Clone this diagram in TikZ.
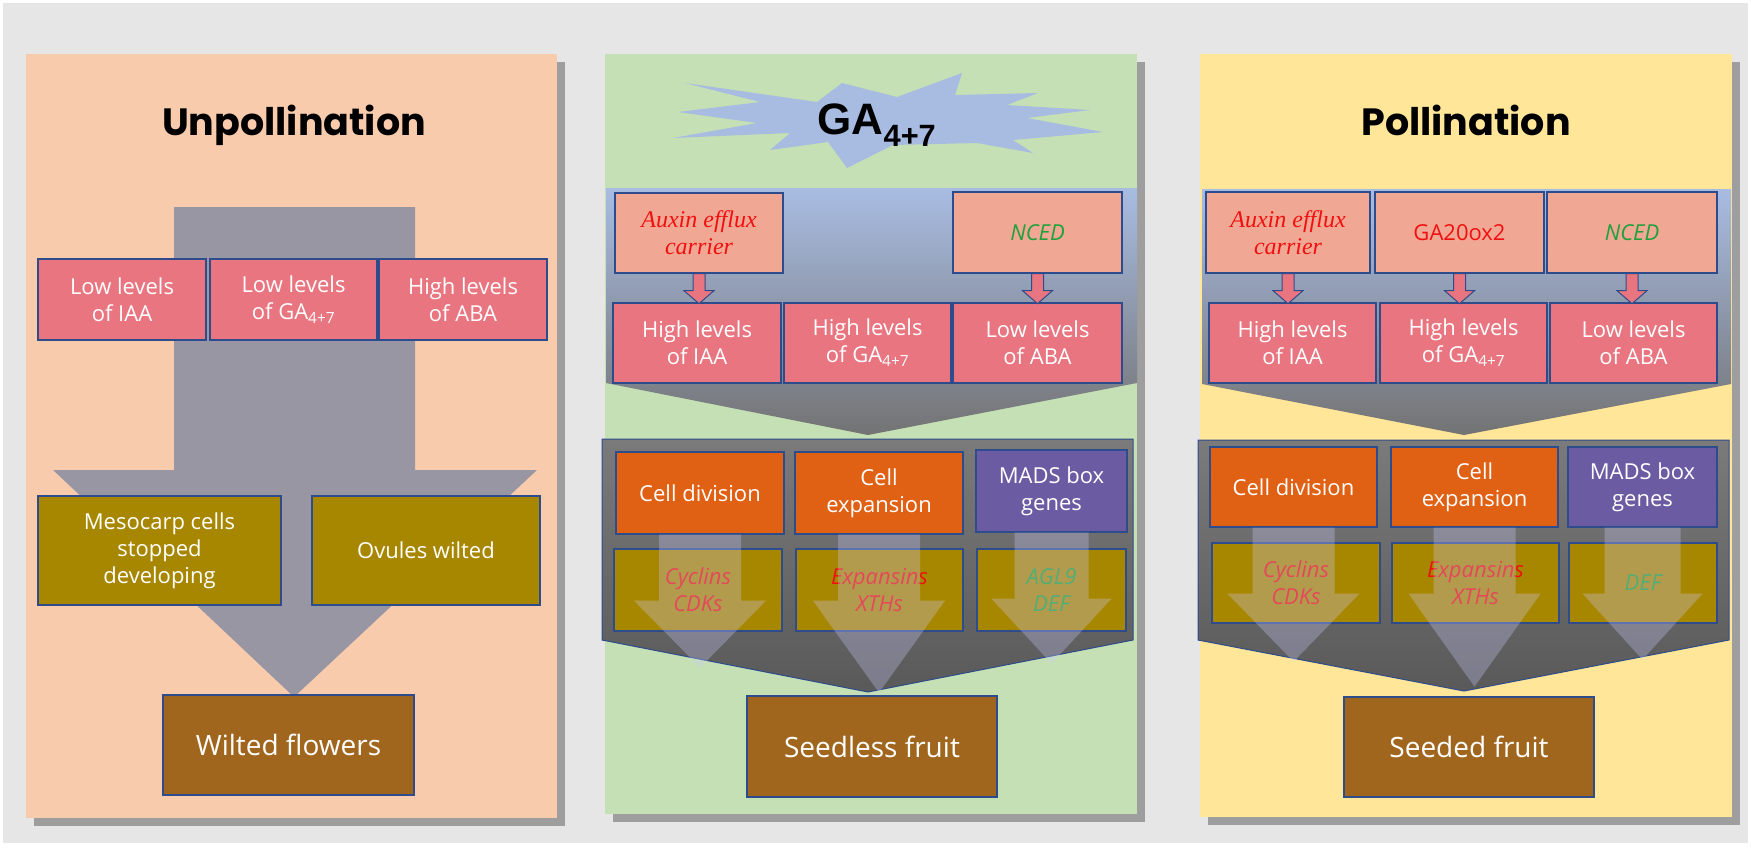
\documentclass[tikz,border=0pt]{standalone}
\usepackage{fontspec}
\setmainfont{Open Sans}
\newfontfamily\ttlfont{Poppins}
\newfontfamily\gafont{Liberation Sans}
\newfontfamily\serfont{Liberation Serif}
\usetikzlibrary{calc}
\definecolor{bgray}{HTML}{E6E6E6}
\definecolor{peach}{HTML}{F8CBAD}
\definecolor{pgreen}{HTML}{C5E0B4}
\definecolor{pyellow}{HTML}{FFE699}
\definecolor{pinkb}{HTML}{E8757F}
\definecolor{salmon}{HTML}{F0A894}
\definecolor{orng}{HTML}{E06014}
\definecolor{purp}{HTML}{6A5BA2}
\definecolor{olive}{HTML}{A88700}
\definecolor{brwn}{HTML}{A0661E}
\definecolor{bord}{HTML}{2E4C8C}
\definecolor{tred}{HTML}{F01010}
\definecolor{tgreen}{HTML}{1FA03C}
\definecolor{star}{HTML}{A8BCE2}
\definecolor{bigarr}{HTML}{9394A3}
\tikzset{
 box/.style={draw=bord, line width=1.3pt, inner sep=2pt, align=center, text=white,
   font=\fontsize{22}{27}\selectfont},
 pinkbox/.style={box, fill=pinkb},
 salbox/.style={box, fill=salmon},
 orbox/.style={box, fill=orng},
 pubox/.style={box, fill=purp},
 olbox/.style={box, fill=olive},
 brbox/.style={box, fill=brwn, font=\fontsize{28}{32}\selectfont},
 panel/.style={draw=none},
 shadow/.style={fill=black!45, opacity=0.8},
 title/.style={font=\ttlfont\bfseries\fontsize{38}{44}\selectfont, text=black},
 redit/.style={text=tred, font=\itshape\fontsize{22}{27}\selectfont},
 grnit/.style={text=tgreen, font=\itshape\fontsize{22}{27}\selectfont},
 serit/.style={text=tred, font=\serfont\itshape\fontsize{24}{27}\selectfont},
 barrow/.pic={\draw[fill=pinkb, draw=bord, line width=1pt] (-6,0) -- (6,0) -- (6,17) -- (15,17) -- (0,30) -- (-15,17) -- (-6,17) -- cycle;},
 larrow/.pic={\fill[white!80!blue, opacity=0.3] (-41,0) -- (41,0) -- (41,66) -- (66,66) -- (0,\arrlen) -- (-66,66) -- (-41,66) -- cycle;},
}
\newcommand\rbox[7]{\node[#6, minimum width={#4-#2}, minimum height={#5-#3}] (#1) at ({(#2+#4)/2},{(#3+#5)/2}) {#7};}
\newcommand\sub[1]{\textsubscript{#1}}
\begin{document}
\begin{tikzpicture}[x=1pt,y=-1pt]
\useasboundingbox (0,0) rectangle (1751,847);
\fill[white] (0,0) rectangle (1751,847);
\fill[bgray] (3,3) rectangle (1748,843);
% panels with shadows
\fill[shadow] (34,62) rectangle (565,826);
\fill[peach] (26,54) rectangle (557,818);
\fill[shadow] (613,62) rectangle (1145,822);
\fill[pgreen] (605,54) rectangle (1137,814);
\fill[shadow] (1208,62) rectangle (1740,825);
\fill[pyellow] (1200,54) rectangle (1732,817);

%%% Panel 1
\node[title] (t1) at (294,125) {Unpollination};
\fill[bigarr, opacity=0.95] (174,207) -- (415,207) -- (415,470) -- (537,470) -- (294,697) -- (53,470) -- (174,470) -- cycle;
\rbox{p1a}{38}{259}{206}{340}{pinkbox}{Low levels\\of IAA}
\rbox{p1b}{210}{259}{377}{340}{pinkbox}{Low levels\\of GA\sub{4+7}}
\rbox{p1c}{379}{259}{547}{340}{pinkbox}{High levels\\of ABA}
\rbox{p1d}{38}{496}{281}{605}{olbox}{Mesocarp cells\\stopped\\developing}
\rbox{p1e}{312}{496}{540}{605}{olbox}{Ovules wilted}
\rbox{p1f}{163}{695}{414}{795}{brbox}{Wilted flowers}

%%% Panel 2
\fill[star] (685,83) -- (817,102) -- (842,83) -- (897,97) -- (962,73) -- (955,95) -- (1038,93) -- (1007,105) -- (1090,110) -- (1027,118) -- (1103,132) -- (1013,140) -- (1033,153) -- (977,143) -- (893,145) -- (847,168) -- (828,142) -- (770,150) -- (790,133) -- (673,138) -- (757,123) -- (678,112) -- (760,102) -- cycle;
\node[font=\gafont\bfseries\fontsize{44}{48}\selectfont] (ga) at (877,125) {GA\sub{4+7}};
\shade[top color=star, bottom color=black!55] (606,188) -- (1137,188) -- (1137,383) -- (868,435) -- (606,383) -- cycle;
\rbox{q1}{615}{193}{783}{273}{salbox}{\serfont\itshape\color{tred}\fontsize{24}{27}\selectfont Auxin efflux\\\serfont\itshape\color{tred}\fontsize{24}{27}\selectfont carrier}
\rbox{q3}{953}{192}{1122}{273}{salbox, grnit}{NCED}
\rbox{q4}{613}{303}{781}{383}{pinkbox}{High levels\\of IAA}
\rbox{q5}{784}{303}{951}{383}{pinkbox}{High levels\\of GA\sub{4+7}}
\rbox{q6}{953}{303}{1122}{383}{pinkbox}{Low levels\\of ABA}
\pic at (q1.south) {barrow};
\pic at (q3.south) {barrow};
\shade[top color=black!52, bottom color=black!65, draw=bord, line width=1pt] (602,439) -- (1133,439) -- (1133,640) -- (868,692) -- (602,640) -- cycle;
\rbox{q7}{616}{452}{784}{534}{orbox}{Cell division}
\rbox{q8}{795}{452}{963}{534}{orbox}{Cell\\expansion}
\rbox{q9}{976}{450}{1127}{532}{pubox}{MADS box\\genes}
\rbox{q10}{614}{549}{782}{631}{olbox, redit}{Cyclins\\CDKs}
\rbox{q11}{796}{549}{963}{631}{olbox, redit}{Expansins\\XTHs}
\rbox{q12}{977}{549}{1126}{631}{olbox, grnit}{AGL9\\DEF}
\def\arrlen{133}
\pic at (q7.south) {larrow};
\def\arrlen{158}
\pic at (q8.south) {larrow};
\def\arrlen{131}
\begin{scope}[shift={(q9.south)}]
\fill[white!80!blue, opacity=0.3] (-37,0) -- (37,0) -- (37,66) -- (60,66) -- (0,131) -- (-60,66) -- (-37,66) -- cycle;
\end{scope}
\rbox{q13}{747}{696}{997}{797}{brbox}{Seedless fruit}

%%% Panel 3
\node[title] (t3) at (1466,120) {Pollination};
\shade[top color=star, bottom color=black!55] (1202,189) -- (1731,189) -- (1731,384) -- (1464,435) -- (1202,384) -- cycle;
\rbox{r1}{1206}{192}{1370}{273}{salbox}{\serfont\itshape\color{tred}\fontsize{24}{27}\selectfont Auxin efflux\\\serfont\itshape\color{tred}\fontsize{24}{27}\selectfont carrier}
\rbox{r2}{1375}{192}{1544}{273}{salbox, text=tred}{GA20ox2}
\rbox{r3}{1547}{192}{1717}{273}{salbox, grnit}{NCED}
\rbox{r4}{1209}{303}{1376}{383}{pinkbox}{High levels\\of IAA}
\rbox{r5}{1380}{303}{1547}{383}{pinkbox}{High levels\\of GA\sub{4+7}}
\rbox{r6}{1550}{303}{1717}{383}{pinkbox}{Low levels\\of ABA}
\pic at (r1.south) {barrow};
\pic at (r2.south) {barrow};
\pic at (r3.south) {barrow};
\shade[top color=black!52, bottom color=black!65, draw=bord, line width=1pt] (1198,440) -- (1729,440) -- (1729,640) -- (1464,691) -- (1198,640) -- cycle;
\rbox{r7}{1210}{447}{1377}{527}{orbox}{Cell division}
\rbox{r8}{1391}{447}{1558}{527}{orbox}{Cell\\expansion}
\rbox{r9}{1568}{447}{1717}{527}{pubox}{MADS box\\genes}
\rbox{r10}{1212}{543}{1380}{623}{olbox, redit}{Cyclins\\CDKs}
\rbox{r11}{1392}{543}{1559}{623}{olbox, redit}{Expansins\\XTHs}
\rbox{r12}{1569}{543}{1717}{623}{olbox, grnit}{DEF}
\def\arrlen{134}
\pic at (r7.south) {larrow};
\def\arrlen{159}
\pic at (r8.south) {larrow};
\begin{scope}[shift={(r9.south)}]
\fill[white!80!blue, opacity=0.3] (-38,0) -- (38,0) -- (38,66) -- (60,66) -- (0,132) -- (-60,66) -- (-38,66) -- cycle;
\end{scope}
\rbox{r13}{1344}{697}{1594}{797}{brbox}{Seeded fruit}
\end{tikzpicture}
\end{document}
